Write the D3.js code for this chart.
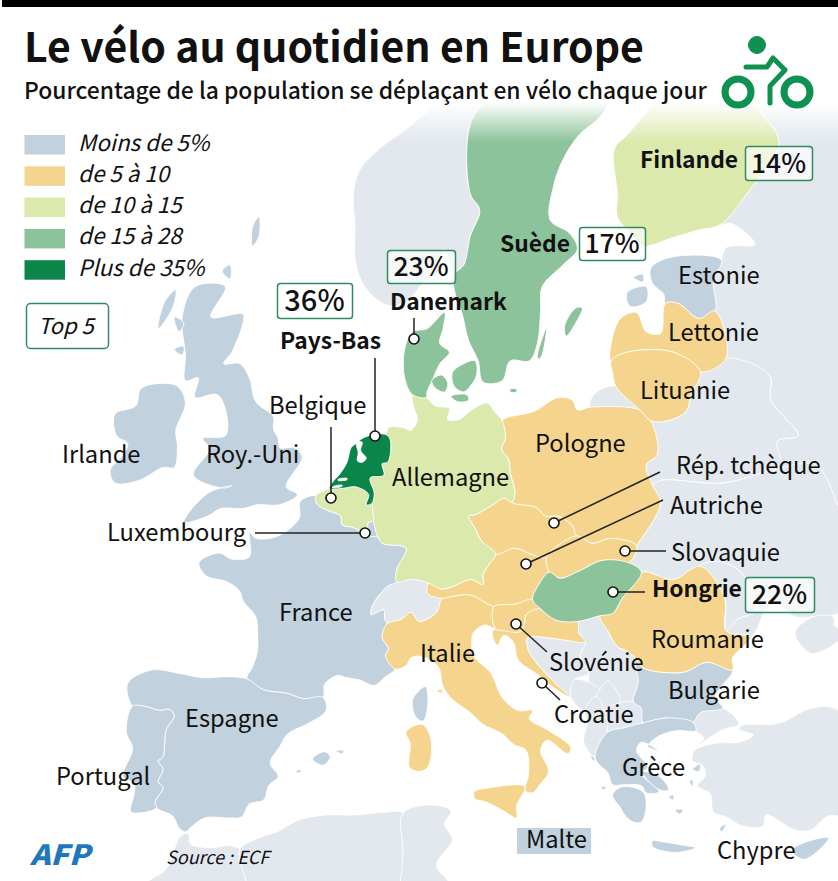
<!DOCTYPE html>
<html>
<head>
<meta charset="utf-8">
<script src="https://cdn.jsdelivr.net/npm/d3@7"></script>
<style>
  body { margin: 0; background: #fff; }
  text { font-family: "Noto Sans CJK JP", "Open Sans", sans-serif; fill: #111; }
</style>
</head>
<body>
<svg id="map" width="838" height="881"></svg>
<script>
// legend ---------------------------------------------------------------------
var legendLabels = ["Moins de 5%", "de 5 à 10", "de 10 à 15", "de 15 à 28", "Plus de 35%"];
var legendColors = ["#c1d1dd", "#f5d58e", "#dce9ad", "#8cc39a", "#0b8549"];
var outsideColor = "#e2e8ee";

// top 5 boxes
var topNames = ["Pays-Bas", "Danemark", "Suède", "Hongrie", "Finlande"];
var topValues = [36, 23, 17, 22, 14];

// plain country names
var plainNames = ["Estonie", "Lettonie", "Lituanie", "Belgique", "Pologne", "Allemagne", "Rép. tchèque",
  "Autriche", "Slovaquie", "Roumanie", "Bulgarie", "Croatie", "Slovénie", "Italie", "France", "Espagne",
  "Portugal", "Irlande", "Roy.-Uni", "Luxembourg", "Grèce", "Malte", "Chypre"];

// country outlines as [lon, lat] -----------------------------------------------
var ireland = [[[-6.1,53],[-6.2,53.6],[-5.6,54.6],[-6.1,55.2],[-7.3,55.3],[-8.4,55.1],[-8.7,54.5],[-10,54.2],[-9.9,53.4],[-9.2,53.1],[-9.6,52.6],[-10.3,52.1],[-10,51.6],[-8.5,51.7],[-7,52.2],[-6.3,52.2]]];
var britain = [[[-5.7,50.05],[-4.2,50.3],[-3.4,50.6],[-2,50.6],[-1.1,50.75],[0.3,50.75],[1.4,51.15],[0.7,51.45],[1.7,52.6],[1.2,52.95],[0.3,52.95],[0.2,53.3],[-0.1,53.65],[-0.1,54.1],[-1.2,54.65],[-1.6,55.5],[-2.2,56],[-3.2,56],[-2.7,56.4],[-2,57.4],[-2,57.7],[-4,57.6],[-3.1,58.6],[-5,58.6],[-5.8,57.6],[-5.6,56.3],[-5.6,55.4],[-4.8,55.5],[-5,54.8],[-3.6,54.9],[-3,54.1],[-3.1,53.4],[-4.5,53.3],[-4.1,52.9],[-5.1,51.9],[-3.2,51.4],[-2.7,51.5],[-4.2,51.2]],
  [[-6.9,58.1],[-6.2,58.5],[-6.4,57.9],[-7.3,57.2]], [[-6.3,57.6],[-5.7,57.4],[-6,57.1]], [[-6.3,56.5],[-5.7,56.6],[-5.8,56.3]],
  [[-3.3,59.1],[-2.8,59.3],[-2.8,58.85]], [[-1.4,59.9],[-1.4,60.5],[-1,60.8],[-1,60.2]]];
var france = [[[2.55,51.1],[2.6,50.8],[3.2,50.55],[4.1,50.3],[4.2,49.95],[4.85,49.85],[5.3,49.7],[5.75,49.55],[6.4,49.5],[6.7,49.2],[8.2,49],[7.6,48.1],[7.6,47.6],[7,47.4],[6.1,46.6],[6,46.2],[6.8,46.4],[6.85,46],[7,45.8],[6.7,45.2],[7.1,44.7],[6.9,44.4],[7.5,43.8],[6.9,43.45],[6.2,43.05],[5.3,43.3],[4.5,43.4],[3.9,43.5],[3.1,43.1],[3,42.5],[1.75,42.45],[0.7,42.7],[-0.7,42.85],[-1.75,43.35],[-1.4,43.9],[-1.1,44.6],[-1.1,45.5],[-1.2,46.1],[-2,46.8],[-2.2,47.2],[-3,47.6],[-4.3,47.85],[-4.75,48.4],[-3.5,48.8],[-2.7,48.55],[-1.6,48.65],[-1.6,49.65],[-1.2,49.4],[0.2,49.5],[1.5,50.2],[1.6,50.9]],
  [[8.6,42.4],[9.4,43],[9.55,42.2],[9.25,41.4],[8.8,41.6]]];
var spain = [[[-1.75,43.35],[-3,43.45],[-4.5,43.4],[-6,43.6],[-7.7,43.75],[-9.2,43.15],[-8.9,42.1],[-8.2,42.1],[-7.2,41.9],[-6.6,41.95],[-6.3,41.65],[-6.8,41],[-6.9,40.3],[-7,39.7],[-7.3,39.5],[-7,39.1],[-7.3,38.5],[-7,38.2],[-7.5,37.5],[-7.4,37.2],[-6.4,36.8],[-6,36.2],[-5.6,36],[-5.3,36.2],[-4.4,36.7],[-2.9,36.7],[-2.1,36.75],[-1.6,37.4],[-0.7,37.6],[-0.4,38.3],[0.2,38.75],[-0.3,39.4],[0.3,40.2],[0.8,40.8],[2.1,41.3],[3.2,41.9],[3,42.5],[1.75,42.45],[0.7,42.7],[-0.7,42.85]],
  [[2.35,39.6],[3.1,39.95],[3.45,39.7],[3,39.3]], [[3.8,40],[4.3,40],[4.2,39.85]], [[1.25,38.95],[1.6,39.1],[1.6,38.95]]];
var portugal = [[[-8.9,42.1],[-9.3,40.9],[-8.9,40.1],[-9.5,38.75],[-8.8,38.4],[-8.8,37.9],[-9,37],[-7.4,37.2],[-7.5,37.5],[-7,38.2],[-7.3,38.5],[-7,39.1],[-7.3,39.5],[-7,39.7],[-6.9,40.3],[-6.8,41],[-6.3,41.65],[-6.6,41.95],[-7.2,41.9],[-8.2,42.1]]];
var luxembourg = [[[5.75,49.55],[6.4,49.5],[6.15,50.1],[5.85,50.05]]];
var estonia = [[[23.5,59.2],[24.8,59.55],[27.9,59.45],[27.4,58.8],[27.5,57.8],[26.5,57.55],[25.2,58.05],[24.4,58.05],[24.3,58.35],[23.6,58.7]],
  [[22,58.4],[23.2,58.6],[23.2,58.1],[22.2,57.95]], [[22.4,58.9],[23,59],[23,58.75]]];
var bulgaria = [[[22.5,44.3],[23,43.85],[25.5,43.65],[27,44.1],[28.6,43.75],[27.9,43],[27.5,42.5],[28,42],[26.6,41.8],[26.1,41.35],[24.5,41.55],[23,41.35],[22.9,42],[22.4,42.3],[22.7,43.2]]];
var greece = [[[20,39.7],[20.75,40.85],[21.9,41.1],[22.9,41.3],[24.5,41.55],[26.1,41.35],[26.3,40.95],[25.1,40.95],[24,40.7],[23.3,40.2],[24,40],[22.9,40.4],[22.6,40],[23.3,39.2],[22.9,38.9],[24,38],[23.2,37.95],[22.9,38.3],[21.8,38.35],[21.1,38.35],[20.8,38.95],[20.3,39.3]],
  [[21.7,38.25],[23,38],[23.2,37.3],[22.9,36.5],[22.4,36.5],[21.9,36.8],[21.6,37.2],[21.1,37.85]],
  [[23.6,35.55],[24.2,35.5],[25.7,35.3],[26.3,35.2],[25,34.95],[23.6,35.25]],
  [[22.9,39],[24.1,38.7],[24.6,38.1],[24,38.1]], [[26.1,39.1],[26.6,39.35],[26.5,39]], [[27.8,36.2],[28.2,36.4],[27.9,36]],
  [[20.4,38.3],[20.7,38.2],[20.5,38.1]], [[19.7,39.8],[20,39.6],[19.9,39.5]], [[25.9,38.5],[26.1,38.6],[26.1,38.25]], [[25,37.1],[25.5,37.1],[25.3,36.9]], [[24.6,37.75],[24.9,37.85],[24.9,37.6]]];
var cyprus = [[[32.3,35.05],[32.9,35.4],[34.6,35.7],[33.9,35],[33,34.6]]];

var italy = [[[7.5,43.8],[6.9,44.4],[7.1,44.7],[6.7,45.2],[7,45.8],[7.9,46],[8.5,46.3],[9,45.9],[10.1,46.3],[10.45,46.9],[11.2,47],[12.2,47.05],[13.7,46.55],[13.6,45.9],[13.75,45.6],[13.1,45.75],[12.4,45.4],[12.3,45],[12.4,44.4],[13.5,43.6],[14.2,42.5],[15.2,41.9],[16.1,41.9],[15.9,41.5],[17,41],[18.5,40.15],[18.3,39.85],[17,40.5],[16.6,40],[17.1,39],[16.6,38.4],[16.1,37.95],[15.65,38.05],[15.85,38.9],[15.7,40],[14.9,40.3],[14.2,40.8],[13,41.25],[12.2,41.8],[11.1,42.4],[10.5,43],[10.2,43.9],[9.2,44.35],[8.5,44.3],[8.2,43.95]],
  [[12.45,38],[13.4,38.2],[15.6,38.25],[15.1,37.3],[15.1,36.7],[14.4,37],[13.2,37.5],[12.5,37.65]],
  [[8.2,40.9],[9.2,41.25],[9.75,40.5],[9.55,39.2],[9,39],[8.4,39.2],[8.45,40.3]], [[10.1,42.8],[10.45,42.85],[10.4,42.7]]];
var austria = [[[9.6,47.55],[10.4,47.3],[11.1,47.4],[12.2,47.7],[13,47.5],[13,47.9],[13.4,48.35],[13.8,48.75],[15,49],[16,48.75],[16.95,48.6],[17.15,48],[16.5,47.5],[16.1,46.85],[15,46.65],[13.7,46.55],[12.2,47.05],[11.2,47],[10.45,46.9],[9.55,47.1]]];
var czechia = [[[12.1,50.3],[12.5,50.35],[13.5,50.7],[14.3,51],[14.8,50.85],[16.3,50.65],[16.9,50.3],[17.7,50.3],[18.6,49.9],[18.85,49.5],[17.2,48.85],[16.95,48.6],[16,48.75],[15,49],[13.8,48.75],[12.9,49.3],[12.5,49.8]]];
var poland = [[[14.2,53.95],[16.2,54.3],[17.7,54.8],[18.6,54.7],[18.9,54.35],[19.7,54.45],[22.8,54.35],[23.5,53.95],[23.9,52.7],[23.2,52.3],[23.6,51.5],[24.1,50.8],[22.7,49.2],[22.6,49.1],[21,49.4],[19.8,49.2],[18.85,49.5],[18.6,49.9],[17.7,50.3],[16.9,50.3],[16.3,50.65],[14.8,50.85],[15,51.2],[14.7,52],[14.6,52.5],[14.15,52.9],[14.4,53.3]]];
var slovakia = [[[16.95,48.6],[17.2,48.85],[18.85,49.5],[19.8,49.2],[21,49.4],[22.6,49.1],[22.1,48.4],[20.5,48.5],[19,48.05],[17.8,47.75],[17.15,48]]];
var slovenia = [[[13.7,46.55],[15,46.65],[16.1,46.85],[16.6,46.45],[15.7,46.2],[15.6,45.85],[15.3,45.45],[13.6,45.5],[13.75,45.6],[13.6,45.9]]];
var croatia = [[[13.6,45.5],[15.3,45.45],[15.6,45.85],[15.7,46.2],[16.6,46.45],[17.6,45.95],[18.9,45.9],[19,45.4],[19.4,45],[18,45.1],[16.9,45.2],[15.8,45.2],[15.8,44.7],[16.2,44.2],[17.6,43.1],[18.5,42.5],[17.5,42.9],[16.5,43.5],[15.2,44.2],[14.9,45],[14.3,45.3],[13.9,44.85]]];
var romania = [[[20.3,46.15],[21.1,46.25],[21.7,46.9],[22.9,48],[24.9,47.7],[26.6,48.25],[28.1,46.9],[28.2,45.5],[29.7,45.2],[28.6,44.3],[28.6,43.75],[27,44.1],[25.5,43.65],[23,43.85],[22.5,44.3],[22,44.6],[21.4,44.8],[20.8,45.5]]];
var latvia = [[[21,56.1],[21.05,56.8],[21.6,57.55],[22.6,57.75],[23.2,57.1],[24.1,57.05],[24.4,58.05],[25.2,58.05],[26.5,57.55],[27.5,57.8],[28.2,56.2],[26.6,55.7],[24.9,56.4],[22,56.4]]];
var lithuania = [[[21,56.1],[22,56.4],[24.9,56.4],[26.6,55.7],[26,54.9],[25.7,54.3],[24.5,53.95],[23.5,53.95],[22.8,54.35],[21.3,55.2],[21.1,55.7]]];

var germany = [[[7,53.3],[7.1,53.7],[8,53.7],[8.5,53.6],[8.9,54],[8.7,54.4],[8.6,54.9],[9.45,54.8],[10,54.5],[10.9,54.4],[10.8,54],[11.5,54],[12.4,54.4],[13.3,54.6],[13.7,54.3],[14.2,53.95],[14.4,53.3],[14.15,52.9],[14.6,52.5],[14.7,52],[15,51.2],[14.8,50.85],[14.3,51],[13.5,50.7],[12.5,50.35],[12.1,50.3],[12.5,49.8],[12.9,49.3],[13.8,48.75],[13.4,48.35],[13,47.9],[13,47.5],[12.2,47.7],[11.1,47.4],[10.4,47.3],[9.6,47.55],[8.6,47.7],[7.6,47.6],[7.6,48.1],[8.2,49],[6.7,49.2],[6.4,49.5],[6.15,50.1],[6.1,50.5],[6.05,50.8],[6.2,51.2],[5.95,51.8],[6.8,51.9],[6.7,52.35],[7.05,52.4],[7.2,53.25]]];
var belgium = [[[2.55,51.1],[3.4,51.38],[4.3,51.4],[5.05,51.45],[5.85,51.15],[5.7,50.75],[6.05,50.8],[6.1,50.5],[6.15,50.1],[5.85,50.05],[5.75,49.55],[5.3,49.7],[4.85,49.85],[4.2,49.95],[4.1,50.3],[3.2,50.55],[2.6,50.8]]];
var finland = [[[24,65.8],[25.2,65.4],[25.4,64.9],[24.5,64.7],[23.5,64],[22,63.2],[21.2,62.8],[21.4,61.5],[21.4,60.8],[22.2,60.3],[23,59.9],[24.8,60.15],[26.5,60.4],[27.8,60.55],[29.5,61.5],[31.5,63],[30.2,64],[30,65],[29.5,66],[29,68],[28,69.5],[20.5,69],[23.6,67.9]]];

var sweden = [[[11.2,59],[11.8,59.3],[12.2,60.2],[12.8,61],[12.2,61.5],[12.2,63.5],[13.8,64.6],[14.5,66.2],[16,67.5],[18,68.5],[20.5,69],[23.6,67.9],[24,65.8],[22.5,65.7],[21.5,65.3],[21.3,64.5],[20.3,63.7],[19,63.2],[18,62.5],[17.4,61.7],[17.2,60.7],[18.4,60.3],[18.9,59.8],[18,59.3],[16.7,58.6],[16.6,57.8],[16.4,56.7],[15.9,56.1],[14.7,56.1],[14.2,55.4],[13,55.35],[12.7,56.1],[12.1,56.8],[11.7,57.7],[11.2,58.5]],
  [[18.1,57.3],[18.8,57.9],[19.2,57.9],[18.8,57.4],[18.2,56.95]], [[16.4,56.2],[17,57.3],[16.6,56.2]]];
var denmark = [[[8.6,54.9],[8.1,55.5],[8.1,56.5],[8.6,57.1],[9.5,57.2],[10.6,57.75],[10.5,57.2],[10.3,56.7],[10.9,56.4],[10.3,56],[9.9,55.5],[9.5,55],[9.45,54.8]],
  [[9.8,55.4],[10.4,55.6],[10.8,55.3],[10.6,55],[10,55.15]], [[11.1,55.7],[11.8,56],[12.5,56.1],[12.6,55.6],[12.2,55.2],[11.8,55],[11.2,55.2]],
  [[11,54.85],[12,54.9],[12.1,54.7],[11.4,54.65]], [[14.7,55.1],[15.1,55.1],[15.1,55],[14.7,55]]];
var hungary = [[[16.1,46.85],[16.5,47.5],[17.15,48],[17.8,47.75],[19,48.05],[20.5,48.5],[22.1,48.4],[22.9,48],[21.7,46.9],[21.1,46.25],[20.3,46.15],[18.9,45.9],[17.6,45.95],[16.6,46.45]]];

var netherlands = [[[3.4,51.38],[3.55,51.6],[4.05,51.95],[4.5,52.4],[4.75,52.95],[5.05,53.1],[5.4,53.28],[6,53.42],[6.9,53.45],[7.2,53.25],[7.05,52.4],[6.7,52.35],[6.8,51.9],[5.95,51.8],[6.2,51.2],[6.05,50.8],[5.7,50.75],[5.85,51.15],[5.05,51.45],[4.3,51.4]]];
var inlandWater = [[[5.1,53.15],[5.45,53.15],[5.35,52.85],[5.7,52.55],[5.45,52.4],[5.15,52.45],[5.2,52.75]], [[3.6,51.45],[4.2,51.52],[4.2,51.48],[3.6,51.41]], [[3.95,51.74],[4.5,51.78],[4.5,51.73],[3.95,51.7]]];

var norway = [[[11.2,59],[10.6,59.8],[10.2,59],[9.4,58.8],[8.2,58.1],[7,58],[5.6,58.6],[5,59.5],[5,60.5],[4.9,61.5],[5.3,62.2],[6.5,62.8],[8.3,63.4],[9.8,64],[11,64.8],[12.5,66],[14,67.5],[16,68.5],[20,70],[25,71],[31,70],[28,69.5],[20.5,69],[18,68.5],[16,67.5],[14.5,66.2],[13.8,64.6],[12.2,63.5],[12.2,61.5],[12.8,61],[12.2,60.2],[11.8,59.3]]];
var switzerland = [[[6.1,46.6],[7,47.4],[7.6,47.6],[8.6,47.7],[9.6,47.55],[9.55,47.1],[10.45,46.9],[10.1,46.3],[9,45.9],[8.5,46.3],[7.9,46],[7,45.8],[6.85,46],[6.8,46.4],[6,46.2]]];
var russia = [[[27.9,59.45],[28.2,59.85],[30,59.95],[28.5,60.6],[27.8,60.55],[29.5,61.5],[31.5,63],[30.2,64],[30,65],[29.5,66],[29,68],[28,69.5],[37,69.5],[37,50.3],[36,50.3],[35.5,50.4],[33.8,52.3],[31.7,52.1],[31.4,53.2],[32.7,53.4],[31,54.7],[30.9,55.6],[28.2,56.2],[27.5,57.8],[27.4,58.8]],
  [[19.7,54.45],[20,54.95],[21.3,55.2],[22.8,54.35]]];
var belarus = [[[23.5,53.95],[24.5,53.95],[25.7,54.3],[26,54.9],[26.6,55.7],[28.2,56.2],[30.9,55.6],[31,54.7],[32.7,53.4],[31.4,53.2],[31.7,52.1],[30.9,52.05],[28,51.6],[24.1,51.7],[23.6,51.5],[23.2,52.3],[23.9,52.7]]];
var ukraine = [[[24.1,50.8],[23.6,51.5],[24.1,51.7],[28,51.6],[30.9,52.05],[33.8,52.3],[35.5,50.4],[36,50.3],[37,47],[35,46.2],[33.6,46.1],[32.5,46.1],[31.5,46.6],[30.8,46.5],[29.7,45.2],[28.2,45.5],[28.9,46],[30.1,46.4],[29.2,47.95],[27.7,48.45],[26.6,48.25],[24.9,47.7],[22.9,48],[22.1,48.4],[22.6,49.1],[22.7,49.2]],
  [[33.6,46.1],[32.5,45.4],[33.5,44.5],[34.5,44.7],[35.4,45.1],[36.5,45.3],[35,45.7],[34.9,46.1]]];
var moldova = [[[26.6,48.25],[27.7,48.45],[29.2,47.95],[30.1,46.4],[28.9,46],[28.2,45.5],[28.1,46.9]]];
var bosnia = [[[15.8,45.2],[16.9,45.2],[18,45.1],[19.4,45],[19.1,44.4],[19.6,43.6],[18.7,43.3],[18.5,42.5],[17.6,43.1],[16.2,44.2],[15.8,44.7]]];
var serbia = [[[18.9,45.9],[20.3,46.15],[20.8,45.5],[21.4,44.8],[22,44.6],[22.5,44.3],[22.7,43.2],[22.4,42.3],[21.6,42.25],[20.8,43.25],[20.3,42.85],[19.6,43.2],[19.6,43.6],[19.1,44.4],[19.4,45],[19,45.4]]];
var montenegro = [[[18.5,42.5],[18.7,43.3],[19.6,43.2],[20.3,42.85],[20.06,42.55],[19.4,41.9]]];
var kosovo = [[[20.06,42.55],[20.3,42.85],[20.8,43.25],[21.6,42.25],[20.6,41.9]]];
var macedonia = [[[20.6,41.9],[21.6,42.25],[22.4,42.3],[22.9,42],[22.9,41.3],[21.9,41.1],[20.75,40.85]]];
var albania = [[[19.4,41.9],[20.06,42.55],[20.6,41.9],[20.75,40.85],[20,39.7],[19.3,40.4],[19.5,41.3]]];
var turkey = [[[26.1,41.35],[26.6,41.8],[28,42],[29,41.25],[28,41],[27.3,40.7],[26.2,40.1],[26.8,40.6],[26.3,40.95]],
  [[29.2,41.2],[31.5,41.3],[33.5,42],[35,42],[36,41.3],[37,41],[37,36.5],[36.2,36.6],[34.6,36.8],[33.5,36.1],[32.5,36.1],[30.7,36.85],[30.5,36.3],[29.2,36.3],[28.2,36.75],[27.4,37],[27.2,37.9],[26.4,38.3],[26.9,38.8],[26.7,39.3],[26.1,39.5],[26.2,40],[27.5,40.35],[29,40.4],[29.9,40.75],[29,41]]];
var morocco = [[[-5.9,35.8],[-5.4,35.9],[-5.3,35.4],[-4,35.2],[-2.9,35.3],[-2.2,35.1],[-1.7,33],[-1.7,30],[-10,30],[-9,32.8],[-7.7,33.6],[-6.8,34.1]]];
var algeria = [[[-2.2,35.1],[-1,35.7],[0.1,36],[1.5,36.6],[3.2,36.85],[5,36.85],[7,37],[8,36.95],[8,35],[8,30],[-1.7,30],[-1.7,33]]];
var tunisia = [[[8,36.95],[9.8,37.35],[11,37.05],[10.6,36.4],[11.1,35.6],[10.1,34.3],[11,33.2],[11,30],[8,30],[8,35]]];

// one list per legend class, same order as legendColors
var outsideLand = [norway, russia, belarus, ukraine, moldova, switzerland, bosnia, serbia, montenegro, kosovo, macedonia, albania, turkey, morocco, algeria, tunisia];
var classLand = [
  [ireland, britain, france, spain, portugal, luxembourg, estonia, bulgaria, greece, cyprus],
  [italy, austria, czechia, poland, slovakia, slovenia, croatia, romania, latvia, lithuania],
  [germany, belgium, finland],
  [sweden, denmark, hungary],
  [netherlands]
];

// label placement, pixels ---------------------------------------------------
var plainPos = { "Estonie": [678,284], "Lettonie": [668,341], "Lituanie": [640,399], "Belgique": [269,414], "Pologne": [535,452],
  "Allemagne": [392,486], "Rép. tchèque": [676,474], "Autriche": [670,514], "Slovaquie": [671,561], "Roumanie": [651,648],
  "Bulgarie": [668,699], "Croatie": [554,723], "Slovénie": [549,671], "Italie": [420,662], "France": [279,621], "Espagne": [185,727],
  "Portugal": [56,785], "Irlande": [62,463], "Roy.-Uni": [206,463], "Luxembourg": [107,541], "Grèce": [622,776], "Malte": [526,848], "Chypre": [717,859] };
var topPos = { "Pays-Bas": [280,349], "Danemark": [390,310], "Suède": [500,252], "Hongrie": [652,597], "Finlande": [640,168] };
var boxPos = { "Pays-Bas": [277,283,75,35], "Danemark": [387,250,68,33], "Suède": [579,227,66,33], "Hongrie": [745,577,69,35], "Finlande": [745,146,67,34] };
var boxFont = { "Pays-Bas": 29, "Danemark": 26.5, "Suède": 26.5, "Hongrie": 26.5, "Finlande": 26.5 };
// dot x, dot y, end of line x, end of line y
var leaders = [[375,436,375,358],[331,498,331,427],[414,339,414,318],[365,533,255,533],[554,523,660,472],[526,564,663,500],
  [625,551,666,551],[613,592,645,592],[516,624,547,652],[542,683,560,700]];

var svg = d3.select("#map");
var defs = svg.append("defs");

var fade = defs.append("linearGradient").attr("id", "fadeTop").attr("x1", 0).attr("x2", 0).attr("y1", 0).attr("y2", 1);
fade.append("stop").attr("offset", "0%").attr("stop-color", "#fff").attr("stop-opacity", 1);
fade.append("stop").attr("offset", "100%").attr("stop-color", "#fff").attr("stop-opacity", 0);

// Mercator fitted on the reference coast points
var projection = d3.geoMercator().scale(916.7).translate([275, 1450]).precision(0.1);
// rounded corners, the hand outlines look too angular with straight segments
var line = d3.line().x(p => projection(p)[0]).y(p => projection(p)[1]).curve(d3.curveCatmullRomClosed.alpha(0.5));

function drawLand(shapes, color, target) {
  shapes.forEach(rings => {
    target.selectAll(null)
      .data(rings)
      .enter()
      .append("path")
      .attr("d", r => line(r))
      .attr("fill", color)
      .attr("stroke", "#fff")
      .attr("stroke-width", 0.9)
      .attr("stroke-linejoin", "round");
  });
}

var mapLayer = svg.append("g");
drawLand(outsideLand, outsideColor, mapLayer);
classLand.forEach((shapes, i) => drawLand(shapes, legendColors[i], mapLayer));
drawLand([inlandWater], "#fff", mapLayer);

// northern land fades out under the title
svg.append("rect").attr("x", 0).attr("y", 0).attr("width", 838).attr("height", 102).attr("fill", "#fff");
svg.append("rect").attr("x", 0).attr("y", 102).attr("width", 838).attr("height", 40).attr("fill", "url(#fadeTop)");

// top bar and titles
svg.append("rect").attr("x", 2).attr("y", 0).attr("width", 836).attr("height", 7).attr("fill", "#000");
svg.append("text").attr("x", 24).attr("y", 62).attr("font-size", 41).attr("font-weight", 700).text("Le vélo au quotidien en Europe");
svg.append("text").attr("x", 24).attr("y", 99).attr("font-size", 22.85).attr("font-weight", 500).text("Pourcentage de la population se déplaçant en vélo chaque jour");

// bike icon
var bike = svg.append("g").attr("fill", "none").attr("stroke", "#0f9152").attr("stroke-linecap", "round").attr("stroke-linejoin", "round");
bike.append("circle").attr("cx", 757).attr("cy", 45).attr("r", 8.5).attr("fill", "#0f9152").attr("stroke-width", 1);
bike.append("circle").attr("cx", 738).attr("cy", 92).attr("r", 13).attr("stroke-width", 7);
bike.append("circle").attr("cx", 797).attr("cy", 92).attr("r", 13).attr("stroke-width", 7);
bike.append("path").attr("d", "M746,67H767L773,58L785,70L770,86V103").attr("stroke-width", 5);

// legend
legendLabels.forEach((label, i) => {
  svg.append("rect").attr("x", 24.5).attr("y", 135 + i * 31.3).attr("width", 40.5).attr("height", 19.5).attr("fill", legendColors[i]);
  svg.append("text").attr("x", 78).attr("y", 150.5 + i * 31.3).attr("font-size", 22.4).attr("font-style", "italic").text(label);
});

svg.append("rect").attr("x", 26.5).attr("y", 303.5).attr("width", 82).attr("height", 45).attr("rx", 4).attr("fill", "#fff").attr("stroke", "#2e8b63").attr("stroke-width", 1.5);
svg.append("text").attr("x", 38).attr("y", 334).attr("font-size", 22).attr("font-style", "italic").text("Top 5");

// Malte has no shape at this scale, only a swatch behind its name
svg.append("rect").attr("x", 517).attr("y", 828).attr("width", 74).attr("height", 26).attr("fill", legendColors[0]);

// leader lines and dots
leaders.forEach(l => {
  svg.append("line").attr("x1", l[0]).attr("y1", l[1]).attr("x2", l[2]).attr("y2", l[3]).attr("stroke", "#222").attr("stroke-width", 1.5);
});
leaders.forEach(l => {
  svg.append("circle").attr("cx", l[0]).attr("cy", l[1]).attr("r", 5).attr("fill", "#fff").attr("stroke", "#111").attr("stroke-width", 1.6);
});

// names
plainNames.forEach(name => {
  svg.append("text").attr("x", plainPos[name][0]).attr("y", plainPos[name][1]).attr("font-size", 23.7).text(name);
});
topNames.forEach((name, i) => {
  svg.append("text").attr("x", topPos[name][0]).attr("y", topPos[name][1]).attr("font-size", 22.8).attr("font-weight", 700).text(name);
  var b = boxPos[name];
  svg.append("rect").attr("x", b[0] + 0.5).attr("y", b[1] + 0.5).attr("width", b[2]).attr("height", b[3]).attr("rx", 3)
    .attr("fill", "#fff").attr("fill-opacity", 0.65).attr("stroke", "#2e8b63").attr("stroke-width", 1.5);
  svg.append("text").attr("x", b[0] + b[2] / 2).attr("y", b[1] + b[3] / 2 + boxFont[name] * 0.36).attr("text-anchor", "middle")
    .attr("font-size", boxFont[name]).attr("font-weight", 500).text(topValues[i] + "%");
});

// source and logo
svg.append("text").attr("x", 166).attr("y", 864).attr("font-size", 18).attr("font-style", "italic").text("Source : ECF");
svg.append("text").attr("x", 30).attr("y", 865).attr("font-size", 28).attr("font-weight", 900).attr("font-style", "italic")
  .attr("textLength", 60).attr("lengthAdjust", "spacingAndGlyphs").style("fill", "#1f78bd").text("AFP");
</script>
</body>
</html>
